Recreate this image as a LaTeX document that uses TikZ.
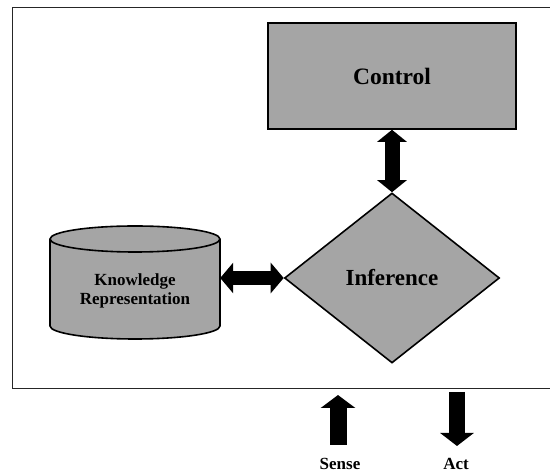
\documentclass[tikz,border=0pt]{standalone}
\usepackage{fontspec}
\setmainfont{Liberation Serif}
\usetikzlibrary{shapes.geometric,arrows.meta}
\definecolor{boxgray}{RGB}{165,165,165}
\tikzset{
  x=1pt,y=1pt,
  shapebox/.style={draw=black,line width=1.6pt,fill=boxgray,inner sep=0pt},
  bigarrow/.style={black},
}
\begin{document}
\begin{tikzpicture}
\useasboundingbox (0,0) rectangle (550,474);
% frame (open at right)
\draw[line width=0.8pt,black!85] (550,467) -- (12,467) -- (12,86) -- (550,86);
% control
\node[shapebox,minimum width=248,minimum height=106,font=\fontsize{23.5}{26}\selectfont\bfseries] (ctrl) at (392,398) {Control};
% inference
\node[shapebox,diamond,minimum width=215,minimum height=170,font=\fontsize{23}{26}\selectfont\bfseries] (inf) at (392,196) {Inference};
% knowledge cylinder
\filldraw[line width=1.6pt,fill=boxgray] (50,235) -- (50,148) arc (180:360:85 and 13) -- (220,235) arc (0:180:85 and 13) -- cycle;
\draw[line width=1.6pt] (50,235) arc (180:360:85 and 13);
\node[inner sep=0pt,minimum width=170,align=center,font=\fontsize{17}{18.5}\selectfont\bfseries] (kr) at (135,183) {Knowledge\\Representation};
% connectors
\draw[bigarrow,line width=15pt,{Triangle[length=12pt,width=29pt]}-{Triangle[length=12pt,width=29pt]}] (ctrl.south) -- (inf.north);
\draw[bigarrow,line width=14pt,{Triangle[length=13pt,width=30pt]}-{Triangle[length=13pt,width=30pt]}] (kr.east |- inf.west) -- (inf.west);
% sense / act
\coordinate (s0) at (338,29);
\coordinate (s1) at (338,79);
\coordinate (a0) at (457,82);
\coordinate (a1) at (457,28);
\draw[bigarrow,line width=17pt,-{Triangle[length=13pt,width=34pt]}] (s0) -- (s1);
\draw[bigarrow,line width=16pt,-{Triangle[length=13pt,width=33pt]}] (a0) -- (a1);
\node[anchor=base,inner sep=0pt,font=\fontsize{17}{18}\selectfont\bfseries] (sense) at (340,4) {Sense};
\node[anchor=base,inner sep=0pt,font=\fontsize{17}{18}\selectfont\bfseries] (act) at (456,4) {Act};
\end{tikzpicture}
\end{document}
